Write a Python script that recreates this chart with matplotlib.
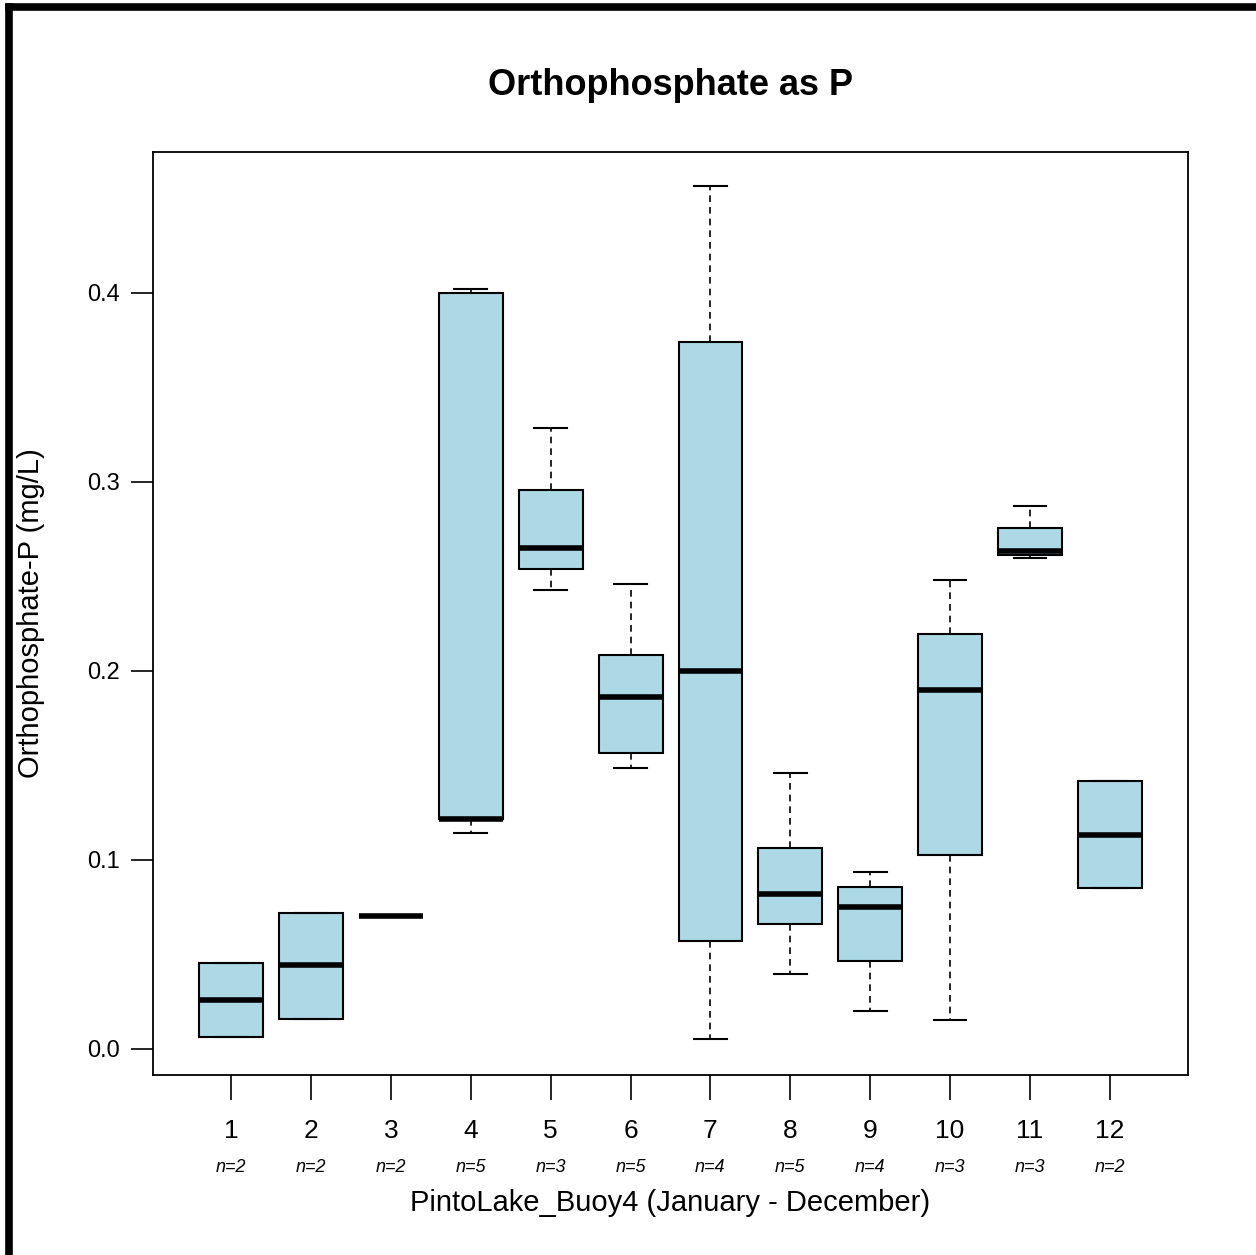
import matplotlib
matplotlib.use("Agg")
import matplotlib.pyplot as plt
from matplotlib.lines import Line2D
from matplotlib.transforms import blended_transform_factory

plt.rcParams['font.family'] = ['Liberation Sans', 'DejaVu Sans']

# monthly box statistics (mg/L)
months = [str(m) for m in range(1, 13)]
n_obs = [2, 2, 2, 5, 3, 5, 4, 5, 4, 3, 3, 2]
whis_lo = [0.0063, 0.016, 0.0704, 0.114, 0.243, 0.1487, 0.0053, 0.0397, 0.020, 0.0153, 0.2600, 0.0852]
q1 = [0.0063, 0.016, 0.0704, 0.1217, 0.254, 0.1566, 0.0571, 0.066, 0.0466, 0.1026, 0.2614, 0.0852]
median = [0.026, 0.0444, 0.0704, 0.1217, 0.265, 0.186, 0.200, 0.082, 0.075, 0.190, 0.2635, 0.1132]
q3 = [0.0455, 0.072, 0.0704, 0.400, 0.296, 0.2085, 0.374, 0.1063, 0.0857, 0.2196, 0.2757, 0.1418]
whis_hi = [0.0455, 0.072, 0.0704, 0.402, 0.3286, 0.246, 0.4566, 0.146, 0.0937, 0.248, 0.2873, 0.1418]

stats = []
for i in range(len(months)):
    stats.append(dict(whislo=whis_lo[i], q1=q1[i], med=median[i], q3=q3[i],
                      whishi=whis_hi[i], fliers=[], label=months[i]))

fig = plt.figure(figsize=(12.56, 12.55), dpi=100)
ax = fig.add_axes([0.1218, 0.1434, 0.8241, 0.7355])

positions = list(range(1, 13))
ax.bxp(stats, positions=positions, widths=0.8, capwidths=0.41,
       patch_artist=True, showfliers=False,
       boxprops=dict(facecolor='#ADD8E6', edgecolor='black', linewidth=1.5),
       medianprops=dict(color='black', linewidth=4, solid_capstyle='butt'),
       whiskerprops=dict(color='black', linewidth=1.2, linestyle=(0, (4, 3))),
       capprops=dict(color='black', linewidth=1.5))

ax.set_xlim(0.02, 12.98)
ax.set_ylim(-0.0138, 0.4746)
ax.set_yticks([0.0, 0.1, 0.2, 0.3, 0.4])
ax.set_yticklabels(['0.0', '0.1', '0.2', '0.3', '0.4'])
ax.set_xticks(positions)
ax.set_xticklabels(months)
ax.tick_params(axis='y', length=16, width=1.2, labelsize=17, pad=8)
ax.tick_params(axis='x', length=18, width=1.2, labelsize=19, pad=14)
for s in ax.spines.values():
    s.set_linewidth(1.3)

trans = blended_transform_factory(ax.transData, ax.transAxes)
for p, n in zip(positions, n_obs):
    ax.text(p, -0.1, f"n={n}", transform=trans, ha='center', va='center',
            fontsize=13, style='italic')

ax.set_xlabel("PintoLake_Buoy4 (January - December)", fontsize=21, labelpad=33)
ax.set_ylabel("Orthophosphate-P (mg/L)", fontsize=21, labelpad=30)
fig.text(0.534, 0.932, "Orthophosphate as P", ha='center', va='center',
         fontsize=26, fontweight='bold')

# outer frame of the screenshot
fig.add_artist(Line2D([8.5 / 1256, 8.5 / 1256], [0, 1 - 6.5 / 1255],
                      transform=fig.transFigure, color='black', linewidth=5.5,
                      solid_capstyle='projecting'))
fig.add_artist(Line2D([8.5 / 1256, 1], [1 - 6.5 / 1255, 1 - 6.5 / 1255],
                      transform=fig.transFigure, color='black', linewidth=5.5))

fig.savefig("out.png", dpi=100)
